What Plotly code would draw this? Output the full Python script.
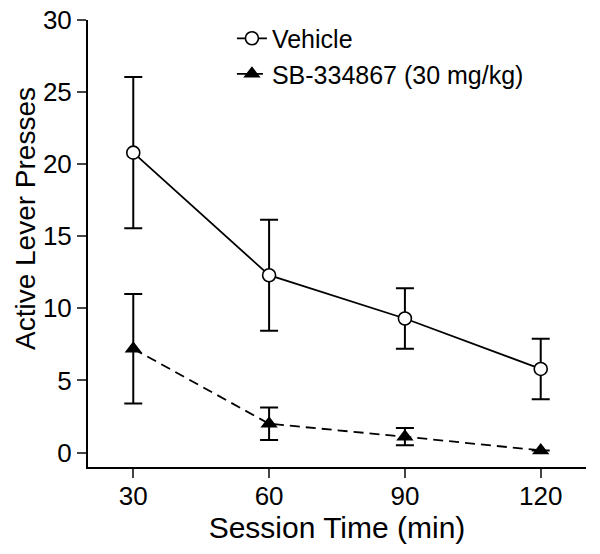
import plotly.graph_objects as go

session_time = [30, 60, 90, 120]
vehicle_mean = [20.8, 12.3, 9.3, 5.8]
vehicle_err = [5.25, 3.85, 2.1, 2.1]
sb_mean = [7.2, 2.0, 1.1, 0.15]
sb_err = [3.8, 1.13, 0.6, 0.0]
x_ticks = [30, 60, 90, 120]
y_ticks = [0, 5, 10, 15, 20, 25, 30]

FONT = "Liberation Sans, Arial, sans-serif"

fig = go.Figure()
fig.add_trace(go.Scatter(
    x=session_time, y=vehicle_mean, name="Vehicle", mode="lines+markers",
    line=dict(color="black", width=1.8),
    marker=dict(symbol="circle", size=13, color="white", line=dict(color="black", width=1.6)),
    error_y=dict(type="data", array=vehicle_err, visible=True, color="black", thickness=2, width=9),
))
fig.add_trace(go.Scatter(
    x=session_time, y=sb_mean, name="SB-334867 (30 mg/kg)", mode="lines+markers",
    line=dict(color="black", width=1.8, dash="10px,6px"),
    marker=dict(symbol="triangle-up", size=15, color="black"),
    error_y=dict(type="data", array=sb_err, visible=True, color="black", thickness=2, width=9),
))

fig.update_layout(
    width=600, height=554,
    margin=dict(l=88, r=14, t=20, b=87),
    paper_bgcolor="white", plot_bgcolor="white",
    font=dict(family=FONT, color="black", size=26),
    showlegend=True,
    legend=dict(x=0.289, y=1.01, xanchor="left", yanchor="top",
                font=dict(size=25), bgcolor="rgba(0,0,0,0)",
                itemwidth=30, tracegroupgap=0),
    xaxis=dict(range=[20, 130], tickvals=x_ticks, ticks="outside", ticklen=9, tickwidth=2,
               showline=True, linewidth=2, linecolor="black", showgrid=False, zeroline=False,
               automargin=False, tickfont=dict(size=26), ticklabelstandoff=-4,
               title=dict(text="Session Time (min)", font=dict(size=30), standoff=2)),
    yaxis=dict(range=[-1, 30], tickvals=y_ticks, ticks="outside", ticklen=9, tickwidth=2,
               showline=True, linewidth=2, linecolor="black", showgrid=False, zeroline=False,
               automargin=False, tickfont=dict(size=26)),
    annotations=[dict(text="Active Lever Presses", textangle=-90, showarrow=False,
                      xref="paper", yref="paper", x=(26 - 88) / 498, y=(467 - 219) / 447,
                      xanchor="center", yanchor="middle", font=dict(size=28))],
)

fig.write_html("out.html", config={"displayModeBar": False},
               post_script="document.body.style.margin='0';")
